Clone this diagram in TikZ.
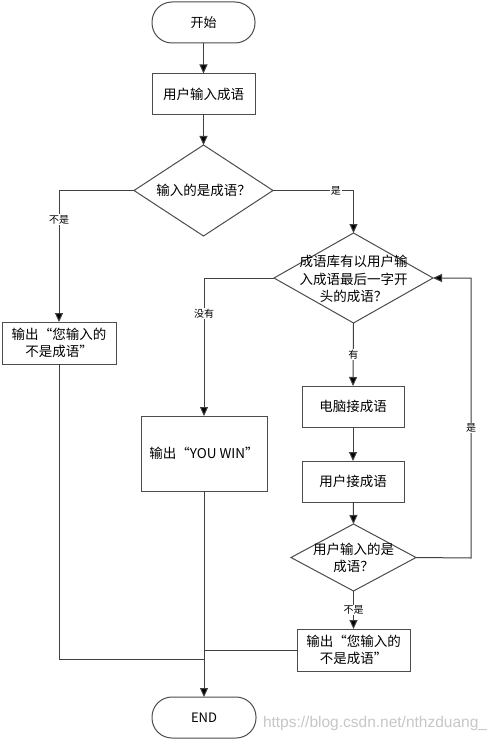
\documentclass[tikz,border=0pt]{standalone}
\usepackage{fontspec}
\setmainfont{Noto Sans CJK SC}
\newfontfamily\wmfont{Liberation Sans}
\usetikzlibrary{shapes.geometric,arrows.meta}
\begin{document}
\begin{tikzpicture}[x=1pt,y=-1pt,
  every node/.style={inner sep=0pt,outer sep=0pt},
  shp/.style={draw=black!70,line width=1pt,fill=white},
  term/.style={shp,rounded corners=20pt,minimum width=103pt,minimum height=41pt,font=\fontsize{13}{17}\selectfont},
  proc/.style={shp,minimum height=41pt,font=\fontsize{13.5}{17.5}\selectfont,align=center},
  dec/.style={shp,diamond},
  dtext/.style={font=\fontsize{13.5}{17.5}\selectfont,align=center},
  lab/.style={fill=white,inner sep=1pt,font=\fontsize{10}{12}\selectfont},
  conn/.style={draw=black!75,line width=1pt},
  arr/.style={conn,-{Triangle[length=9pt,width=8pt,fill=black]}}
]
\useasboundingbox (0,0) rectangle (500,741);
\fill[white] (0,0) rectangle (500,741);

\node[term] (start) at (203.5,22.5) {开始};
\node[proc,minimum width=103pt] (in1) at (203.5,94) {用户输入成语};
\node[dec,minimum width=139pt,minimum height=91pt] (d1) at (203.5,190.5) {};
\node[dtext] (d1t) at (d1) {输入的是成语？};
\node[dec,minimum width=159pt,minimum height=90pt] (d2) at (353.5,278) {};
\node[dtext] (d2t) at (353.5,279) {成语库有以用户输\\入成语最后一字开\\头的成语？};
\node[proc,minimum width=114pt,minimum height=42pt] (err1) at (59,343) {输出“您输入的\\不是成语”};
\node[proc,minimum width=126pt,minimum height=75pt] (win) at (204,453.5) {输出“YOU WIN”};
\node[proc,minimum width=102pt] (pc) at (353,406.5) {电脑接成语};
\node[proc,minimum width=102pt] (usr) at (353,481.5) {用户接成语};
\node[dec,minimum width=125pt,minimum height=67pt] (d3) at (353.5,557.5) {};
\node[dtext] (d3t) at (353.5,558) {用户输入的是\\成语？};
\node[proc,minimum width=113pt,minimum height=42pt] (err2) at (353.5,650) {输出“您输入的\\不是成语”};
\node[term,minimum width=104pt] (end) at (204,717.5) {END};

\coordinate (loop) at (471,558);
\coordinate (j1) at (204,659);

\draw[arr] (start) -- (in1);
\draw[arr] (in1) -- (d1);
\draw[arr] (d1.east) -| node[lab,pos=0.39] {是} (d2.north);
\draw[arr] (d1.west) -| node[lab,pos=0.61] {不是} (err1.north);
\draw[arr] (d2.west) -| node[lab,pos=0.63] {没有} (win.north);
\draw[arr] (d2.south) -- node[lab,pos=0.5] {有} (pc.north);
\draw[arr] (pc) -- (usr);
\draw[arr] (usr) -- (d3.north);
\draw[arr] (d3.east) -- (loop) |- node[lab,pos=0.232] {是} (d2.east);
\draw[arr] (d3.south) -- node[lab,pos=0.5] {不是} (err2.north);
\draw[conn] (err1.south) |- (j1);
\draw[conn] (err2.west) -- (err2.west -| win.south);
\draw[arr] (win.south) -- (end.north);

\node[anchor=west,text=black!22,font=\wmfont\fontsize{15.5}{17}\selectfont] (wm) at (263,723) {https://blog.csdn.net/nthzduang\_};
\end{tikzpicture}
\end{document}
